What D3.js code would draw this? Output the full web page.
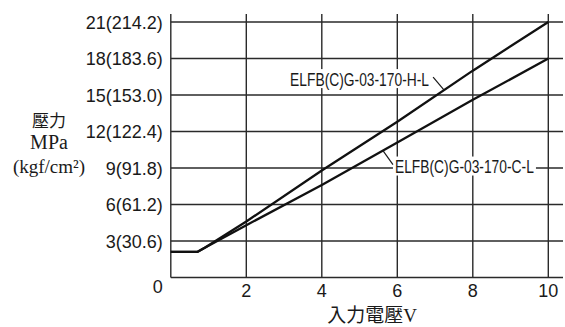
<!DOCTYPE html>
<html><head><meta charset="utf-8">
<script src="https://cdn.jsdelivr.net/npm/d3@7"></script>
<style>
html,body{margin:0;padding:0;background:#fff;}
svg{display:block;}
</style></head>
<body>
<svg id="c" width="565" height="327"></svg>
<script>
// ---- data ----
const xTicks = [0, 2, 4, 6, 8, 10];
const yTicks = [3, 6, 9, 12, 15, 18, 21];
const yTickLabels = ["3(30.6)", "6(61.2)", "9(91.8)", "12(122.4)", "15(153.0)", "18(183.6)", "21(214.2)"];
const seriesNames = ["ELFB(C)G-03-170-H-L", "ELFB(C)G-03-170-C-L"];
const voltageH = [0, 0.7, 0.9, 2, 4, 6, 8, 10];
const pressureH = [2.1, 2.1, 2.45, 4.6, 8.8, 12.8, 17.0, 21.0];
const voltageC = [0, 0.7, 0.9, 2, 4, 6, 8, 10];
const pressureC = [2.1, 2.1, 2.45, 4.3, 7.6, 11.1, 14.6, 18.0];
const yLabelLines = ["壓力", "MPa", "(kgf/cm²)"];
const xLabel = "入力電壓V";

// ---- scales ----
const svg = d3.select("#c");
const x = d3.scaleLinear().domain([0, 10]).range([170.8, 548.3]);
const y = d3.scaleLinear().domain([0, 21]).range([277.5, 22]);
const xMaxGrid = x.invert(563);
const yMaxGrid = y.invert(14);
const gridColor = "#2a2a2a";

const g = svg.append("g");
g.selectAll("line.h").data([0].concat(yTicks)).join("line")
  .attr("x1", x(0)).attr("x2", x(xMaxGrid))
  .attr("y1", d => y(d)).attr("y2", d => y(d))
  .attr("stroke", gridColor).attr("stroke-width", 1.4);
g.selectAll("line.v").data(xTicks).join("line")
  .attr("x1", d => x(d)).attr("x2", d => x(d))
  .attr("y1", y(0)).attr("y2", y(yMaxGrid))
  .attr("stroke", gridColor).attr("stroke-width", 1.4);

// tick labels
const tf = "'Liberation Sans', Arial, sans-serif";
svg.selectAll("text.yt").data(yTicks).join("text")
  .attr("x", x(0) - 8).attr("y", d => y(d) + 6.5)
  .attr("text-anchor", "end").attr("font-family", tf).attr("font-size", 18).attr("fill", "#1a1a1a")
  .text((d, i) => yTickLabels[i]);
svg.append("text").attr("x", x(0) - 8).attr("y", y(0) + 15.5)
  .attr("text-anchor", "end").attr("font-family", tf).attr("font-size", 18).attr("fill", "#1a1a1a")
  .text("0");
svg.selectAll("text.xt").data(xTicks.filter(d => d > 0)).join("text")
  .attr("x", d => x(d)).attr("y", y(0) + 19.5)
  .attr("text-anchor", "middle").attr("font-family", tf).attr("font-size", 18).attr("fill", "#1a1a1a")
  .text(d => d);

// axis titles
const sf = "'Liberation Serif', 'Times New Roman', 'Noto Sans CJK TC', serif";
svg.append("text").attr("x", 49).attr("y", 127).attr("text-anchor", "middle")
  .attr("font-family", "'Noto Sans CJK TC', sans-serif").attr("font-size", 17).attr("fill", "#1a1a1a")
  .text(yLabelLines[0]);
svg.append("text").attr("x", 49).attr("y", 149).attr("text-anchor", "middle")
  .attr("font-family", sf).attr("font-size", 20).attr("fill", "#1a1a1a")
  .text(yLabelLines[1]);
svg.append("text").attr("x", 49).attr("y", 173).attr("text-anchor", "middle")
  .attr("font-family", sf).attr("font-size", 19).attr("fill", "#1a1a1a")
  .text(yLabelLines[2]);

svg.append("text").attr("x", 372).attr("y", 322).attr("text-anchor", "middle")
  .attr("font-family", "'Liberation Serif', 'Noto Sans CJK TC', serif")
  .attr("font-size", 19).attr("fill", "#1a1a1a").text(xLabel);

// series lines
const line = d3.line().x(d => x(d[0])).y(d => y(d[1]));
const seriesH = voltageH.map((v, i) => [v, pressureH[i]]);
const seriesC = voltageC.map((v, i) => [v, pressureC[i]]);
[seriesH, seriesC].forEach(s => {
  svg.append("path").datum(s).attr("d", line)
    .attr("fill", "none").attr("stroke", "#111").attr("stroke-width", 2.3)
    .attr("stroke-linejoin", "round");
});

// annotations
function valueAt(vs, ps, v) {
  return d3.scaleLinear().domain(vs).range(ps)(v);
}
const annots = [
  {name: seriesNames[0], v: 7.24, vs: voltageH, ps: pressureH, dx: -11, dy: -13, anchor: "end", tx: -4, ty: 2, len: 139},
  {name: seriesNames[1], v: 5.62, vs: voltageC, ps: pressureC, dx: 10, dy: 14, anchor: "start", tx: 2, ty: 2, len: 139}
];
annots.forEach(a => {
  const px = x(a.v), py = y(valueAt(a.vs, a.ps, a.v));
  const ex = px + a.dx, ey = py + a.dy;
  const tx = ex + a.tx, ty = ey + a.ty;
  const x0 = a.anchor === "end" ? tx - a.len : tx;
  svg.append("rect").attr("x", x0 - 2).attr("y", ty - 10).attr("width", a.len + 4).attr("height", 19).attr("fill", "#fff");
  const t = svg.append("text").attr("x", 0).attr("y", 0).attr("text-anchor", "start")
    .attr("font-family", tf).attr("font-size", 18).attr("fill", "#1a1a1a").text(a.name);
  const w = t.node().getComputedTextLength();
  const s = a.len / w;
  t.attr("transform", `translate(${x0},${ty + 6.5}) scale(${s},1)`);
  svg.append("line").attr("x1", px).attr("y1", py).attr("x2", ex).attr("y2", ey)
    .attr("stroke", "#1a1a1a").attr("stroke-width", 1.2);
});
</script>
</body></html>
